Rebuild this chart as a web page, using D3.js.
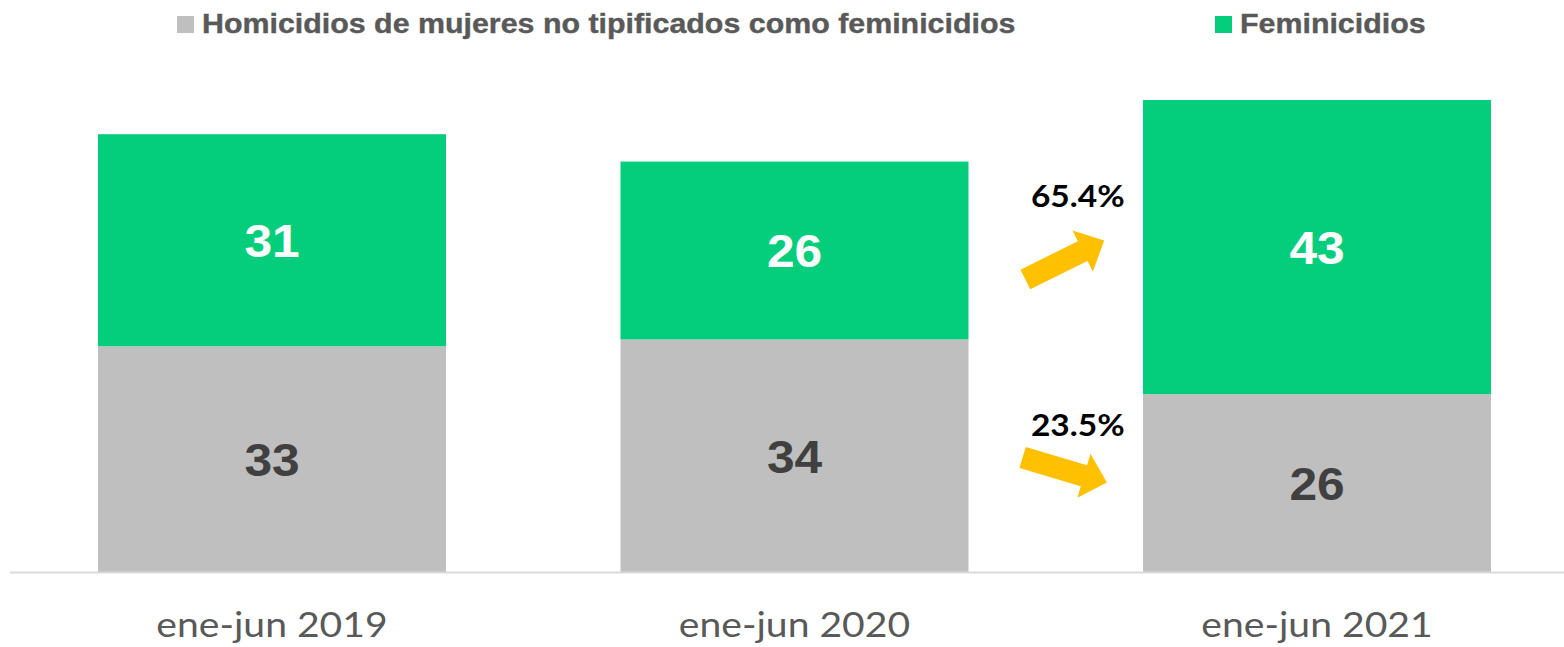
<!DOCTYPE html>
<html>
<head>
<meta charset="utf-8">
<script src="https://cdn.jsdelivr.net/npm/d3@7"></script>
<style>
  body { margin: 0; background: #fff; }
  svg { display: block; }
</style>
</head>
<body>
<div id="chart"></div>
<script>
// data
var periods = ["ene-jun 2019", "ene-jun 2020", "ene-jun 2021"];
var homicidios = [33, 34, 26];
var feminicidios = [31, 26, 43];
var series_names = ["Homicidios de mujeres no tipificados como feminicidios", "Feminicidios"];
var changes = ["65.4%", "23.5%"];   // feminicidios, homicidios (2020 -> 2021)

var colour_grey = "#bfbfbf";
var colour_green = "#04cd7b";
var colour_arrow = "#ffc000";

var width = 1564, height = 647;
var baseline = 572;
var stretch = 1.08;   // text in the original is a bit wide for its height

var svg = d3.select("#chart").append("svg")
    .attr("width", width)
    .attr("height", height);

var x = d3.scaleBand()
    .domain(periods)
    .range([98, 1491])
    .paddingInner(0.334)
    .paddingOuter(0);

var y = d3.scaleLinear()
    .domain([0, 69])
    .range([baseline, 100]);

var rows = periods.map(function(p, i) {
    return { period: p, hom: homicidios[i], fem: feminicidios[i] };
});
var stack = d3.stack().keys(["hom", "fem"])(rows);
var colours = [colour_grey, colour_green];
var label_colours = ["#404040", "#ffffff"];

// bars
var layers = svg.selectAll(".layer")
    .data(stack)
    .enter()
    .append("g")
    .attr("class", "layer")
    .attr("fill", function(d, i) { return colours[i]; });

layers.selectAll("rect")
    .data(function(d) { return d; })
    .enter()
    .append("rect")
    .attr("x", function(d) { return x(d.data.period); })
    .attr("y", function(d) { return y(d[1]); })
    .attr("width", x.bandwidth())
    .attr("height", function(d) { return y(d[0]) - y(d[1]); });

// value labels
stack.forEach(function(layer, li) {
    svg.selectAll(".lbl" + li)
        .data(layer)
        .enter()
        .append("text")
        .attr("class", "lbl" + li)
        .attr("transform", function(d) {
            var cx = x(d.data.period) + x.bandwidth() / 2;
            var cy = (y(d[0]) + y(d[1])) / 2 + 17;
            return "translate(" + cx + "," + cy + ") scale(" + stretch + ",1)";
        })
        .attr("text-anchor", "middle")
        .style("font-family", "'Liberation Sans', Arial, sans-serif")
        .style("font-weight", "bold")
        .style("font-size", "46px")
        .style("fill", label_colours[li])
        .text(function(d) { return d[1] - d[0]; });
});

// axis
var axis = svg.append("g")
    .attr("transform", "translate(0," + baseline + ")")
    .call(d3.axisBottom(x).tickSize(0).tickPadding(41));

axis.select(".domain")
    .attr("d", "M10,0.5H" + width)
    .attr("stroke", "#d9d9d9")
    .attr("stroke-width", 2);

axis.selectAll("text")
    .attr("transform", "scale(1.15,1)")
    .style("font-family", "Lato, 'Open Sans', sans-serif")
    .style("font-size", "34px")
    .style("fill", "#595959");

// legend
var legend_x = [177, 1215];
var legend = svg.selectAll(".legend")
    .data(series_names)
    .enter()
    .append("g")
    .attr("class", "legend")
    .attr("transform", function(d, i) { return "translate(" + legend_x[i] + ",16)"; });

legend.append("rect")
    .attr("width", 17)
    .attr("height", 17)
    .attr("fill", function(d, i) { return colours[i]; });

legend.append("text")
    .attr("transform", "translate(25,17) scale(1.085,1)")
    .style("font-family", "'Liberation Sans', Arial, sans-serif")
    .style("font-weight", "bold")
    .style("font-size", "28px")
    .style("fill", "#595959")
    .style("stroke", "#595959")
    .style("stroke-width", 0.4)
    .text(function(d) { return d; });

// change arrows between the last two bars
var gap_x = (x(periods[1]) + x.bandwidth() + x(periods[2])) / 2 + 9;
var arrows = [
    { label: changes[0], cy: 260, angle: -26.3, ty: 207 },
    { label: changes[1], cy: 470, angle: 16.6, ty: 436 }
];

var arrow_shape = function() {
    var L = 88, hw = 11, hl = 24, hh = 23;
    var pts = [[-L / 2, -hw], [L / 2 - hl, -hw], [L / 2 - hl, -hh], [L / 2, 0],
               [L / 2 - hl, hh], [L / 2 - hl, hw], [-L / 2, hw]];
    return d3.line()(pts) + "Z";
};

var arr = svg.selectAll(".arrow")
    .data(arrows)
    .enter()
    .append("g")
    .attr("class", "arrow");

arr.append("path")
    .attr("d", arrow_shape())
    .attr("fill", colour_arrow)
    .attr("transform", function(d) { return "translate(" + gap_x + "," + d.cy + ") rotate(" + d.angle + ")"; });

arr.append("text")
    .attr("transform", function(d) { return "translate(" + (gap_x + 13) + "," + d.ty + ") scale(" + stretch + ",1)"; })
    .attr("text-anchor", "middle")
    .style("font-family", "Lato, 'Open Sans', sans-serif")
    .style("font-weight", "bold")
    .style("font-size", "31px")
    .style("fill", "#000")
    .text(function(d) { return d.label; });
</script>
</body>
</html>
